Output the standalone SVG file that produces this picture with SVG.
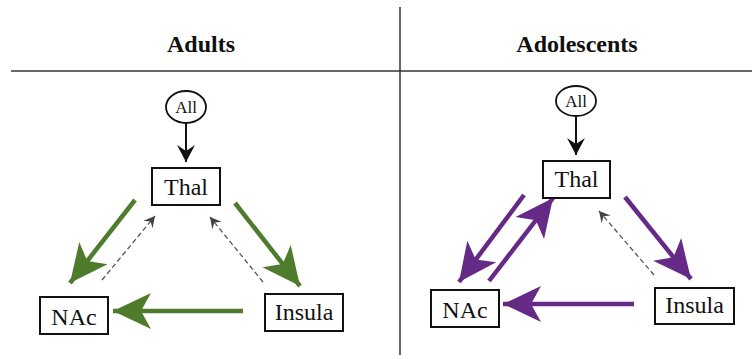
<svg xmlns="http://www.w3.org/2000/svg" width="752" height="359" viewBox="0 0 752 359">
<style>
.hdr{font-family:"Liberation Serif","DejaVu Serif",serif;font-weight:bold;font-size:24px;text-anchor:middle;fill:#111}
.lbl{font-family:"Liberation Serif","DejaVu Serif",serif;font-size:24px;text-anchor:middle;fill:#111}
.sm{font-family:"Liberation Serif","DejaVu Serif",serif;font-size:17px;text-anchor:middle;fill:#111}
.box{fill:#fff;stroke:#111;stroke-width:2}
.rule{stroke:#333;stroke-width:1.5}
.g{stroke:#4f7c2c;stroke-width:4.5;fill:none}
.p{stroke:#652a86;stroke-width:4.5;fill:none}
.k{stroke:#111;stroke-width:2;fill:none}
.d{stroke:#555;stroke-width:1.3;stroke-dasharray:5 3;fill:none}
</style>
<defs>
<marker id="mg" markerUnits="userSpaceOnUse" viewBox="-40 -20 42 40" refX="0" refY="0" markerWidth="42" markerHeight="40" orient="auto"><path d="M0,0 L-38,-18 L-28,0 L-38,18 Z" fill="#4f7c2c"/></marker>
<marker id="mp" markerUnits="userSpaceOnUse" viewBox="-40 -20 42 40" refX="0" refY="0" markerWidth="42" markerHeight="40" orient="auto"><path d="M0,0 L-38,-18 L-28,0 L-38,18 Z" fill="#652a86"/></marker>
<marker id="mk" markerUnits="userSpaceOnUse" viewBox="-18 -10 20 20" refX="0" refY="0" markerWidth="20" markerHeight="20" orient="auto"><path d="M0,0 L-17,-9 L-11,0 L-17,9 Z" fill="#111"/></marker>
<marker id="md" markerUnits="userSpaceOnUse" viewBox="-12 -7 13 14" refX="0" refY="0" markerWidth="13" markerHeight="14" orient="auto"><path d="M0,0 L-11,-6 L-7,0 L-11,6 Z" fill="#444"/></marker>
</defs>
<g id="frame">
<line class="rule" x1="400" y1="7" x2="400" y2="355"/>
<line class="rule" x1="11" y1="71" x2="752" y2="71"/>
<text class="hdr" x="201" y="52">Adults</text>
<text class="hdr" x="577" y="52">Adolescents</text>
</g>
<g id="connectors">
<line class="k" x1="186" y1="123" x2="186" y2="162" marker-end="url(#mk)"/>
<line class="g" x1="135" y1="200" x2="70" y2="283" marker-end="url(#mg)"/>
<line class="g" x1="235" y1="203" x2="300" y2="286" marker-end="url(#mg)"/>
<line class="g" x1="243" y1="311" x2="113" y2="311" marker-end="url(#mg)"/>
<line class="d" x1="102" y1="280" x2="155" y2="216" marker-end="url(#md)"/>
<line class="d" x1="263" y1="282" x2="210" y2="217" marker-end="url(#md)"/>
<line class="k" x1="576" y1="117" x2="576" y2="155" marker-end="url(#mk)"/>
<line class="p" x1="524" y1="195" x2="459" y2="282" marker-end="url(#mp)"/>
<line class="p" x1="489" y1="281" x2="553" y2="198" marker-end="url(#mp)"/>
<line class="p" x1="625" y1="197" x2="691" y2="279" marker-end="url(#mp)"/>
<line class="p" x1="634" y1="304" x2="503" y2="304" marker-end="url(#mp)"/>
<line class="d" x1="654" y1="275" x2="599" y2="211" marker-end="url(#md)"/>
</g>
<g id="all-adults"><ellipse cx="186" cy="107" rx="20" ry="16" fill="#fff" stroke="#111" stroke-width="1.8"/><text class="sm" x="186" y="113">All</text></g>
<g id="thal-adults"><rect class="box" x="152" y="168" width="68" height="37"/><text class="lbl" x="186" y="195">Thal</text></g>
<g id="nac-adults"><rect class="box" x="40" y="297" width="68" height="37"/><text class="lbl" x="74" y="325">NAc</text></g>
<g id="insula-adults"><rect class="box" x="265" y="294" width="78" height="37"/><text class="lbl" x="304" y="320">Insula</text></g>
<g id="all-adol"><ellipse cx="576" cy="101" rx="20" ry="15" fill="#fff" stroke="#111" stroke-width="1.8"/><text class="sm" x="576" y="107">All</text></g>
<g id="thal-adol"><rect class="box" x="543" y="161" width="67" height="37"/><text class="lbl" x="576.5" y="187">Thal</text></g>
<g id="nac-adol"><rect class="box" x="431" y="290" width="68" height="37"/><text class="lbl" x="465" y="318">NAc</text></g>
<g id="insula-adol"><rect class="box" x="655" y="288" width="79" height="36"/><text class="lbl" x="694.5" y="313">Insula</text></g>
</svg>
